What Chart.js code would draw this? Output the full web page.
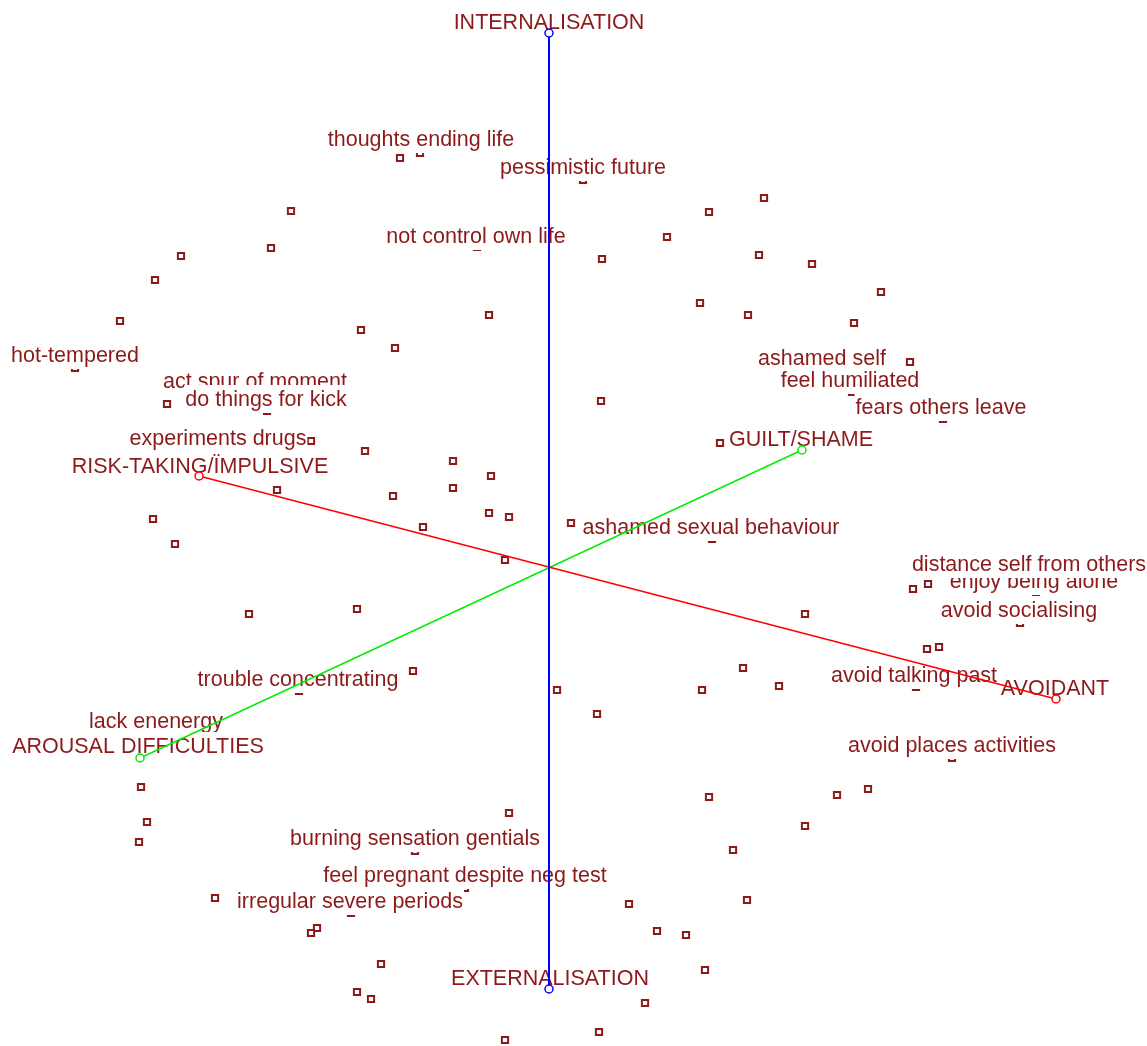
<!DOCTYPE html>
<html>
<head>
<meta charset="utf-8">
<script src="https://cdn.jsdelivr.net/npm/chart.js@4.4.1/dist/chart.umd.min.js"></script>
<style>
  html, body { margin:0; padding:0; background:#fff; }
  #wrap { width:1147px; height:1046px; position:relative; }
</style>
</head>
<body>
<div id="wrap"><canvas id="biplot"></canvas></div>
<script>
// item scores (unlabelled symptoms)
const itemX = [-1.49,-2.58,-2.78,-3.68,-3.94,-4.29,-1.88,-1.54,-0.60,0.53,1.18,1.60,2.15,2.10,2.63,3.32,1.51,1.99,3.05,0.52,1.71,
  -3.82,-2.38,-1.84,-0.96,-0.58,-0.96,-2.72,-1.56,-0.60,-0.40,-3.96,-1.26,0.22,-3.74,-0.44,-1.92,-3.00,-1.36,0.08,
  3.64,3.79,2.56,3.78,3.90,1.94,1.53,2.30,0.48,
  -4.08,-4.02,-4.10,-0.40,-3.34,-2.32,-2.38,-1.68,-1.92,-1.78,-0.44,1.60,2.88,3.19,2.56,1.84,0.80,1.98,1.08,1.37,1.56,0.96,0.50];
const itemY = [4.10,3.57,3.20,3.12,2.88,2.47,2.38,2.20,2.53,3.09,3.31,3.56,3.70,3.13,3.04,2.76,2.65,2.53,2.45,1.67,1.25,
  1.64,1.27,1.17,1.07,0.92,0.80,0.78,0.72,0.55,0.51,0.49,0.41,0.45,0.24,0.08,-0.41,-0.46,-1.03,-1.22,
  -0.21,-0.16,-0.46,-0.81,-0.79,-1.00,-1.22,-1.18,-1.46,
  -2.19,-2.54,-2.74,-2.45,-3.30,-3.60,-3.65,-3.96,-4.24,-4.31,-4.72,-2.29,-2.27,-2.21,-2.58,-2.82,-3.36,-3.32,-3.63,-3.67,-4.02,-4.35,-4.64];

// labelled items: name, score, label anchor
const namedItems = ['thoughts ending life','pessimistic future','not control own life','hot-tempered','act spur of moment',
  'do things for kick','experiments drugs','ashamed self','feel humiliated','fears others leave','ashamed sexual behaviour',
  'enjoy being alone','distance self from others','avoid socialising','avoid talking past','avoid places activities',
  'trouble concentrating','lack enenergy','burning sensation gentials','feel pregnant despite neg test','irregular severe periods'];
const namedX = [-1.29,0.34,-0.72,-4.74,-2.94,-2.82,-3.31,3.61,3.03,3.94,1.63,4.87,4.80,4.71,3.67,4.03,-2.50,-3.93,-1.34,-0.84,-1.98];
const namedY = [4.15,3.88,3.21,2.00,1.75,1.57,1.17,2.06,1.76,1.49,0.29,-0.24,-0.08,-0.55,-1.19,-1.90,-1.23,-1.65,-2.83,-3.20,-3.45];
const namedLabelX = [-1.28,0.34,-0.73,-4.74,-2.94,-2.83,-3.31,2.73,3.01,3.92,1.62,4.85,4.80,4.70,3.65,4.03,-2.51,-3.93,-1.34,-0.84,-1.99];
const namedLabelY = [4.30,4.02,3.33,2.14,1.88,1.70,1.31,2.11,1.89,1.62,0.42,-0.12,0.05,-0.41,-1.06,-1.76,-1.10,-1.52,-2.69,-3.06,-3.32];

// dimension axes: [start, end]
const dimNames = ['INTERNALISATION','EXTERNALISATION','RISK-TAKING/ÏMPULSIVE','AVOIDANT','GUILT/SHAME','AROUSAL DIFFICULTIES'];
const dimX = [0, 0, -3.50, 5.07, 2.53, -4.09];
const dimY = [5.35, -4.21, 0.92, -1.31, 1.18, -1.90];
const dimLabelX = [0, 0.01, -3.49, 5.06, 2.52, -4.11];
const dimLabelY = [5.47, -4.09, 1.03, -1.19, 1.30, -1.77];

const INK = '#8c1a1a';
const FONT = '21.5px "Liberation Sans", Arial, sans-serif';

const pts = itemX.map((x,i)=>({x, y:itemY[i]})).concat(namedX.map((x,i)=>({x, y:namedY[i]})));
const axisPair = (a,b) => [{x:dimX[a],y:dimY[a]},{x:dimX[b],y:dimY[b]}];

function drawTag(ctx, chart, text, x, y) {
  const cx = chart.scales.x.getPixelForValue(x), cy = chart.scales.y.getPixelForValue(y);
  const w = ctx.measureText(text).width;
  ctx.fillStyle = '#fff';
  ctx.fillRect(cx - w/2 - 1, cy - 13, w + 2, 28);
  ctx.fillStyle = INK;
  ctx.fillText(text, cx, cy + 7.5);
}

const labelPlugin = {
  id: 'tags',
  afterDatasetDraw(chart, args) {
    if (args.index !== 0) return;
    const ctx = chart.ctx;
    ctx.save();
    ctx.font = FONT; ctx.textAlign = 'center'; ctx.textBaseline = 'alphabetic';
    namedItems.forEach((t,i)=>drawTag(ctx, chart, t, namedLabelX[i], namedLabelY[i]));
    dimNames.forEach((t,i)=>drawTag(ctx, chart, t, dimLabelX[i], dimLabelY[i]));
    ctx.restore();
  }
};

const lineDs = (data, color, w) => ({ data, showLine:true, borderColor:color, borderWidth:w, pointRadius:4,
  pointBorderWidth:1.5, pointBackgroundColor:'#fff', pointBorderColor:color, pointStyle:'circle', order:0 });

new Chart(document.getElementById('biplot'), {
  type: 'scatter',
  data: { datasets: [
    { data: pts, pointStyle:'rect', pointRadius:4.4, pointBorderWidth:2, pointBorderColor:INK, pointBackgroundColor:'#fff', order:10 },
    lineDs(axisPair(0,1), '#0000ff', 2),
    lineDs(axisPair(2,3), '#ff0000', 1.5),
    lineDs(axisPair(4,5), '#00ee00', 1.5)
  ]},
  options: {
    responsive:true, maintainAspectRatio:false, animation:false,
    layout:{ padding:0, autoPadding:false },
    plugins:{ legend:{display:false}, tooltip:{enabled:false} },
    scales:{
      x:{ type:'linear', min:-5.49, max:5.98, display:false },
      y:{ type:'linear', min:-4.78, max:5.68, display:false }
    }
  },
  plugins:[labelPlugin]
});
</script>
</body>
</html>
